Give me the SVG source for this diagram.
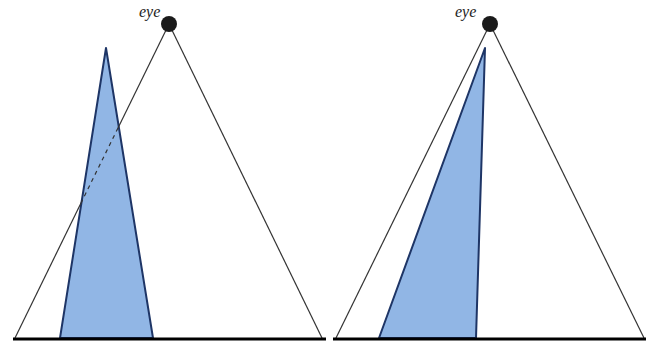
<svg xmlns="http://www.w3.org/2000/svg" width="652" height="341" viewBox="0 0 652 341">
<style>
.ray{stroke:#333;stroke-width:1.2;fill:none}
.obj{fill:#91b6e5;stroke:#1e3566;stroke-width:2;stroke-linejoin:round}
.base{stroke:#000;stroke-width:3}
.eye{fill:#1a1a1a}
.lbl{font-family:"Liberation Serif",serif;font-style:italic;font-size:16px;fill:#222}
</style>
<rect width="652" height="341" fill="#fff"/>
<g id="left-panel">
<g id="left-object"><polygon class="obj" points="106,48 60,338 153,338"/></g>
<g id="left-connectors">
<line class="ray" x1="169" y1="24" x2="118" y2="128"/>
<line class="ray" x1="118" y1="128" x2="81" y2="203" stroke-dasharray="4,4"/>
<line class="ray" x1="81" y1="203" x2="15" y2="338"/>
<line class="ray" x1="169" y1="24" x2="322" y2="338"/>
</g>
<g id="left-eye"><circle class="eye" cx="169" cy="24" r="8"/><text class="lbl" x="139" y="17">eye</text></g>
<line class="base" x1="13" y1="339" x2="326" y2="339"/>
</g>
<g id="right-panel">
<g id="right-connectors">
<line class="ray" x1="490" y1="24" x2="336" y2="338"/>
<line class="ray" x1="490" y1="24" x2="644" y2="338"/>
</g>
<g id="right-object"><polygon class="obj" points="485,48 379,338 476,338"/></g>
<g id="right-eye"><circle class="eye" cx="490" cy="24" r="8"/><text class="lbl" x="455" y="17">eye</text></g>
<line class="base" x1="333" y1="339" x2="646" y2="339"/>
</g>
</svg>
